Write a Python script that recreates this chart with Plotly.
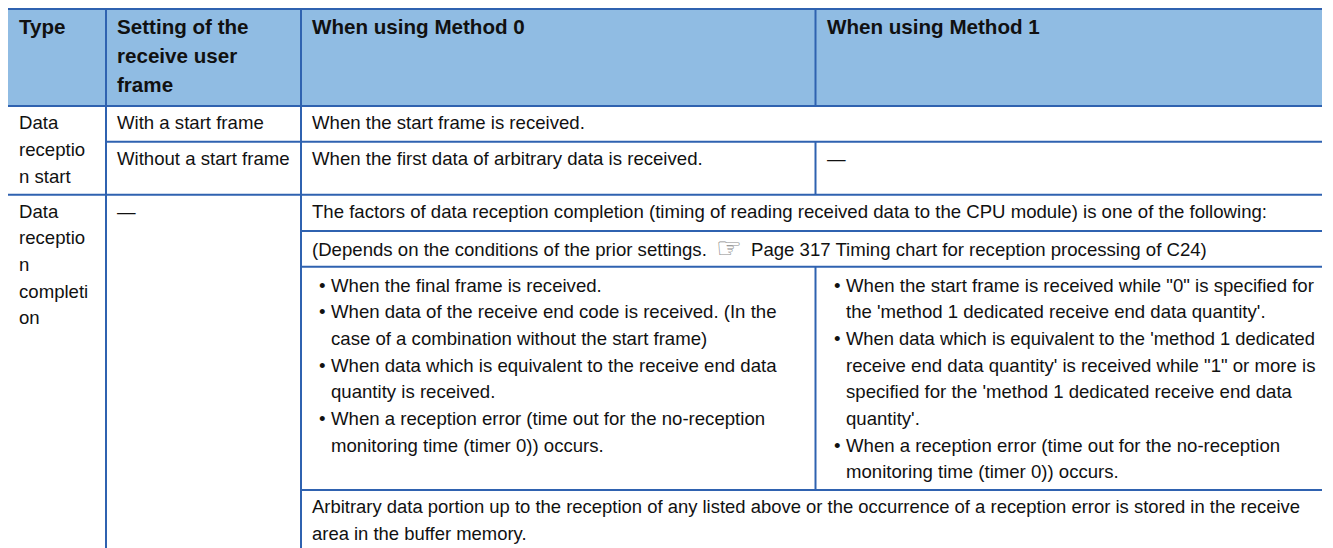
import plotly.graph_objects as go

COL_EDGES = [8, 106, 301, 815.5, 1322]
ROW_EDGES = [9, 106, 141.7, 194.7, 231, 266.7, 490, 548]
LINE = "#2f62b0"
HEAD_BG = "#90bce3"
INK = "#111111"
FONT = "Liberation Sans"
HEAD_SIZE = 20.6
BODY_SIZE = 18.6
PAD_X = 10
LH = 26.67

header = [
    (0, ["Type"]),
    (1, ["Setting of the", "receive user", "frame"]),
    (2, ["When using Method 0"]),
    (3, ["When using Method 1"]),
]
col_type = [
    (122.7, ["Data", "receptio", "n start"]),
    (211, ["Data", "receptio", "n", "completi", "on"]),
]
col_setting = [
    (122.7, ["With a start frame"]),
    (158, ["Without a start frame"]),
    (211, ["—"]),
]
col_m0 = [
    (122.7, ["When the start frame is received."]),
    (158, ["When the first data of arbitrary data is received."]),
    (211.7, ["The factors of data reception completion (timing of reading received data to the CPU module) is one of the following:"]),
]
col_m1 = [(158, ["—"])]
closing = ["Arbitrary data portion up to the reception of any listed above or the occurrence of a reception error is stored in the receive",
           "area in the buffer memory."]
ref_left = "(Depends on the conditions of the prior settings."
ref_icon = "☞"
ref_right = "Page 317 Timing chart for reception processing of C24)"
bul_m0 = [
    ["When the final frame is received."],
    ["When data of the receive end code is received. (In the", "case of a combination without the start frame)"],
    ["When data which is equivalent to the receive end data", "quantity is received."],
    ["When a reception error (time out for the no-reception", "monitoring time (timer 0)) occurs."],
]
bul_m1 = [
    ["When the start frame is received while \"0\" is specified for", "the 'method 1 dedicated receive end data quantity'."],
    ["When data which is equivalent to the 'method 1 dedicated", "receive end data quantity' is received while \"1\" or more is", "specified for the 'method 1 dedicated receive end data", "quantity'."],
    ["When a reception error (time out for the no-reception", "monitoring time (timer 0)) occurs."],
]
narrow_line = "When data which is equivalent to the 'method 1 dedicated"

shapes, ann = [], []


def text(x, y, s, size=BODY_SIZE, bold=False, color=INK, family=FONT):
    ann.append(dict(x=x, y=y, text=f"<b>{s}</b>" if bold else s, showarrow=False,
                    xanchor="left", yanchor="middle", xref="x", yref="y",
                    align="left", borderpad=0,
                    font=dict(family=family, size=size, color=color)))


def seg(x0, y0, x1, y1):
    shapes.append(dict(type="line", x0=x0, x1=x1, y0=y0, y1=y1, xref="x", yref="y",
                       line=dict(color=LINE, width=2), layer="above"))


C, R = COL_EDGES, ROW_EDGES
shapes.append(dict(type="rect", x0=C[0], x1=C[-1], y0=R[0], y1=R[1], xref="x", yref="y",
                   fillcolor=HEAD_BG, line=dict(width=0), layer="below"))
for y, start in ((R[0], 0), (R[1], 0), (R[2], 1), (R[3], 0), (R[4], 2), (R[5], 2), (R[6], 2)):
    seg(C[start], y, C[-1], y)
seg(C[1], R[0], C[1], R[-1])
seg(C[2], R[0], C[2], R[-1])
seg(C[3], R[0], C[3], R[1])
seg(C[3], R[2], C[3], R[3])
seg(C[3], R[5], C[3], R[6])

for c, lines in header:
    for i, s in enumerate(lines):
        text(C[c] + PAD_X, 26 + i * 29, s, HEAD_SIZE, True)
for col, rows in ((0, col_type), (1, col_setting), (2, col_m0), (3, col_m1)):
    for y, lines in rows:
        for i, s in enumerate(lines):
            text(C[col] + PAD_X, y + i * LH, s)

text(C[2] + PAD_X, 249, ref_left)
text(715, 248, ref_icon, 29, color="#8a8a8a", family="DejaVu Sans")
text(750, 249, ref_right)
for i, s in enumerate(closing):
    text(C[2] + PAD_X, 506.7 + i * LH, s, 18.45)


def bullets(col, items, y0, dx):
    y = y0
    for it in items:
        text(C[col] + dx - 12.5, y, "•")
        for s in it:
            text(C[col] + dx, y, s, 18.37 if s == narrow_line else BODY_SIZE)
            y += LH


bullets(2, bul_m0, 285, 29)
bullets(3, bul_m1, 285, 29.5)

fig = go.Figure()
fig.update_layout(
    width=1333, height=548, margin=dict(l=0, r=0, t=0, b=0),
    paper_bgcolor="white", plot_bgcolor="white", showlegend=False,
    xaxis=dict(range=[0, 1333], visible=False, fixedrange=True),
    yaxis=dict(range=[548, 0], visible=False, fixedrange=True),
    shapes=shapes, annotations=ann,
)
fig.write_html("out.html", config={"displayModeBar": False},
               post_script="document.body.style.margin='0';document.body.style.overflow='hidden';")
